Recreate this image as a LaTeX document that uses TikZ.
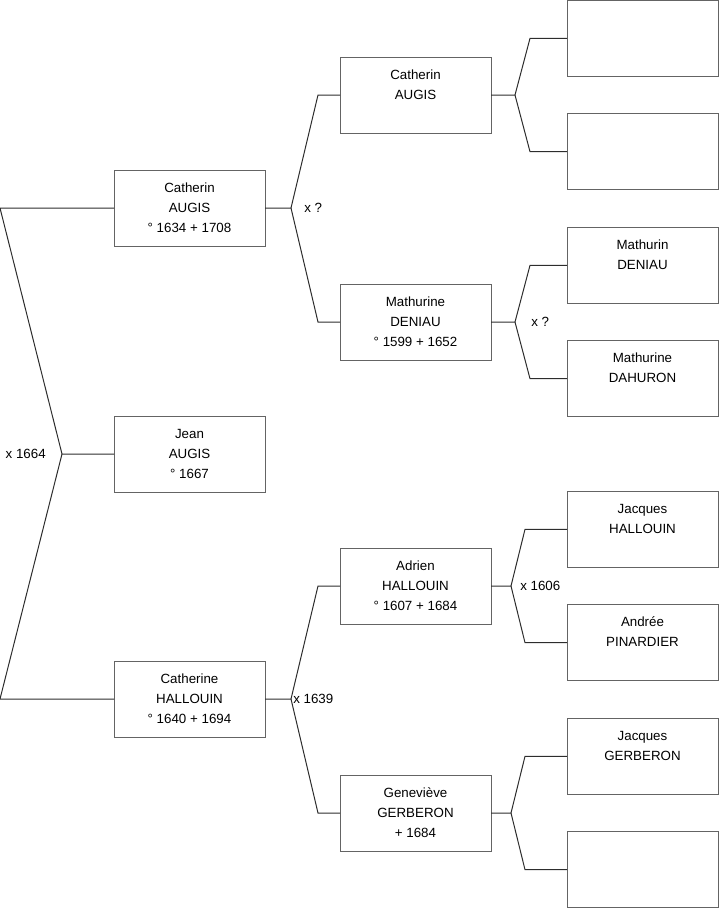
\documentclass[tikz,border=0pt]{standalone}
\usepackage{fontspec}
\setmainfont{Liberation Sans}
\usepackage{xcolor}
\usepackage{tikz}
\usetikzlibrary{calc,positioning}
\definecolor{boxGray}{RGB}{100,100,100}
\definecolor{lineDark}{RGB}{45,45,45}
\newcommand{\who}[3]{\begin{tabular}{@{}c@{}}#1\\#2\\\strut#3\end{tabular}}

\begin{document}
\begin{tikzpicture}[x=0.75pt, y=-0.75pt,
    every node/.style={font=\fontsize{10}{15}\selectfont},
    person/.style={draw=boxGray, line width=0.75pt, fill=white, inner sep=0pt, outer sep=0pt,
        minimum width=113.25pt, minimum height=57pt},
    fork/.style={draw=lineDark, line width=0.75pt},
    wed/.style={inner sep=0pt}]
    \useasboundingbox (0,0) rectangle (719,908);

    % child and parents
    \node[person] (jean) at (189.5,454) {\who{Jean}{AUGIS}{° 1667}};
    \node[person, above=127.5pt of jean] (catA) {\who{Catherin}{AUGIS}{° 1634 + 1708}};
    \node[person, below=126.75pt of jean] (catH) {\who{Catherine}{HALLOUIN}{° 1640 + 1694}};

    % grandparents
    \node[person, above right=27.75pt and 56.25pt of catA] (catP) {\who{Catherin}{AUGIS}{}};
    \node[person, below right=28.5pt and 56.25pt of catA] (mathD) {\who{Mathurine}{DENIAU}{° 1599 + 1652}};
    \node[person, above right=27.75pt and 56.25pt of catH] (adrien) {\who{Adrien}{HALLOUIN}{° 1607 + 1684}};
    \node[person, below right=28.5pt and 56.25pt of catH] (genev) {\who{Geneviève}{GERBERON}{+ 1684}};

    % great-grandparents
    \node[person, right=57pt of catP, yshift=42.5pt] (unkA) {};
    \node[person, right=57pt of catP, yshift=-42.5pt] (unkB) {};
    \node[person, right=57pt of mathD, yshift=42.5pt] (mathu) {\who{Mathurin}{DENIAU}{}};
    \node[person, right=57pt of mathD, yshift=-42.5pt] (dahur) {\who{Mathurine}{DAHURON}{}};
    \node[person, right=57pt of adrien, yshift=42.5pt] (jacqH) {\who{Jacques}{HALLOUIN}{}};
    \node[person, right=57pt of adrien, yshift=-42.5pt] (andree) {\who{Andrée}{PINARDIER}{}};
    \node[person, right=57pt of genev, yshift=42.5pt] (jacqG) {\who{Jacques}{GERBERON}{}};
    \node[person, right=57pt of genev, yshift=-42.5pt] (unkC) {};

    % forks
    \draw[fork] (catA.west) -- ++(-85.5pt,0) -- ([xshift=-39pt]jean.west) coordinate (apexJ) -- (jean.west);
    \draw[fork] (catH.west) -- ++(-85.5pt,0) -- (apexJ);
    \draw[fork] (catA.east) -- ++(19.5pt,0) coordinate (apexA) -- ([xshift=-16.5pt]catP.west) -- (catP.west);
    \draw[fork] (apexA) -- ([xshift=-16.5pt]mathD.west) -- (mathD.west);
    \draw[fork] (catH.east) -- ++(19.5pt,0) coordinate (apexH) -- ([xshift=-16.5pt]adrien.west) -- (adrien.west);
    \draw[fork] (apexH) -- ([xshift=-16.5pt]genev.west) -- (genev.west);
    \draw[fork] (catP.east) -- ++(18pt,0) coordinate (apexP) -- ([xshift=-27.75pt]unkA.west) -- (unkA.west);
    \draw[fork] (apexP) -- ([xshift=-27.75pt]unkB.west) -- (unkB.west);
    \draw[fork] (mathD.east) -- ++(18pt,0) coordinate (apexM) -- ([xshift=-27.75pt]mathu.west) -- (mathu.west);
    \draw[fork] (apexM) -- ([xshift=-27.75pt]dahur.west) -- (dahur.west);
    \draw[fork] (adrien.east) -- ++(15pt,0) coordinate (apexD) -- ([xshift=-31.5pt]jacqH.west) -- (jacqH.west);
    \draw[fork] (apexD) -- ([xshift=-31.5pt]andree.west) -- (andree.west);
    \draw[fork] (genev.east) -- ++(15pt,0) coordinate (apexG) -- ([xshift=-31.5pt]jacqG.west) -- (jacqG.west);
    \draw[fork] (apexG) -- ([xshift=-31.5pt]unkC.west) -- (unkC.west);

    % marriages
    \node[wed, anchor=east] (wedJ) at ([xshift=-12pt]apexJ) {x 1664};
    \node[wed, anchor=west] (wedA) at ([xshift=9.75pt]apexA) {x ?};
    \node[wed, anchor=west] (wedH) at ([xshift=1.5pt]apexH) {x 1639};
    \node[wed, anchor=west] (wedM) at ([xshift=12pt]apexM) {x ?};
    \node[wed, anchor=west] (wedD) at ([xshift=6.75pt]apexD) {x 1606};
\end{tikzpicture}
\end{document}
